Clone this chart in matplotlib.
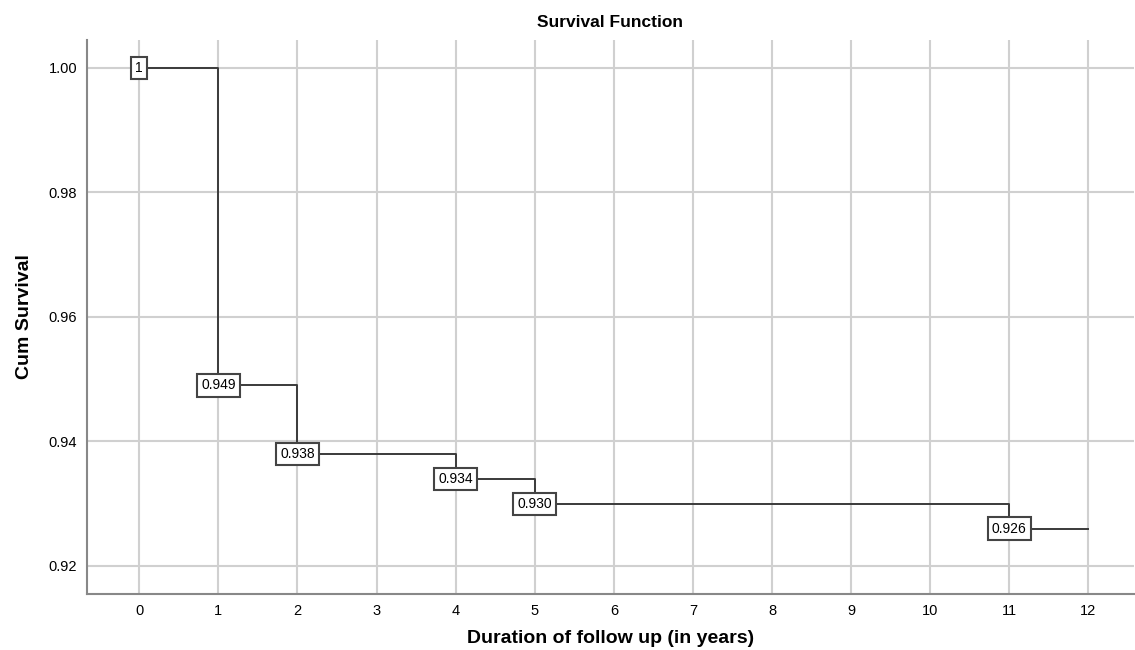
import matplotlib as mpl
mpl.use('agg')
import matplotlib.pyplot as plt
import numpy as np

# survival data
times = [0, 1, 2, 4, 5, 11, 12]
surv = [1.0, 0.949, 0.938, 0.934, 0.930, 0.926, 0.926]
labels = ['1', '0.949', '0.938', '0.934', '0.930', '0.926']
xticks = list(range(0, 13))
yticks = [0.92, 0.94, 0.96, 0.98, 1.00]

plt.rcParams['font.family'] = ['Liberation Sans', 'DejaVu Sans']

fig = plt.figure(figsize=(11.35, 6.5), dpi=100)
ax = fig.add_axes([0.0767, 0.0862, 0.922, 0.8523])

ax.grid(True, color='#d0d0d0', linewidth=1.5, zorder=0)
ax.step(times, surv, where='post', color='#3a3a3a', linewidth=1.4, zorder=2)

for t, s, lab in zip(times[:-1], surv[:-1], labels):
    ax.text(t, s, lab, ha='center', va='center', fontsize=10, zorder=3,
            bbox=dict(boxstyle='square,pad=0.3', fc='white', ec='#444444', lw=1.5))

ax.set_xlim(-0.66, 12.57)
ax.set_ylim(0.9155, 1.0045)
ax.set_xticks(xticks)
ax.set_yticks(yticks)
ax.set_yticklabels([f'{v:.2f}' for v in yticks])
ax.tick_params(labelsize=10.5, length=0, pad=7)

for side in ['top', 'right']:
    ax.spines[side].set_visible(False)
for side in ['left', 'bottom']:
    ax.spines[side].set_color('#888888')
    ax.spines[side].set_linewidth(1.5)

ax.set_title('Survival Function', fontsize=12.5, fontweight='bold', pad=9)
ax.set_xlabel('Duration of follow up (in years)', fontsize=14, fontweight='bold', labelpad=9)
ax.set_ylabel('Cum Survival', fontsize=14, fontweight='bold', labelpad=11)

plt.savefig('out.png', dpi=100)
